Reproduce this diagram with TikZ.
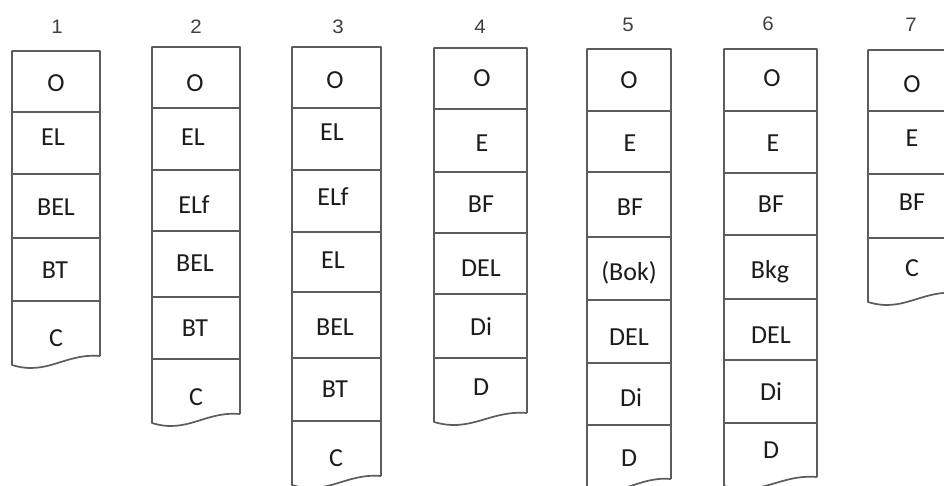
\documentclass[tikz,border=0pt]{standalone}
\usepackage{fontspec}
\usepackage{xcolor}
\usepackage{tikz}
\newfontfamily\cellfont{Carlito}
\newfontfamily\numfont[FakeStretch=1.05]{Liberation Sans}
\definecolor{framegray}{HTML}{5C5C5C}
\definecolor{textgray}{HTML}{1C1C1C}
\definecolor{numgray}{HTML}{404040}

\tikzset{
  frame/.style={draw=framegray, line width=1.7pt},
  cell/.style={inner sep=0pt, text height=16.5pt, text depth=0pt, text=textgray,
               font=\cellfont\fontsize{26}{26}\selectfont},
  colnum/.style={inner sep=0pt, text height=14pt, text depth=0pt, text=numgray,
                 font=\numfont\fontsize{19.5}{19.5}\selectfont}
}

\begin{document}
\begin{tikzpicture}[x=1pt, y=-1pt]
  \useasboundingbox (0,0) rectangle (944,486);
  \clip (0,0) rectangle (944,486);

  % column numbers
  \node[colnum] (n1) at (57,27) {1};
  \node[colnum] (n2) at (196,27) {2};
  \node[colnum] (n3) at (338,27) {3};
  \node[colnum] (n4) at (480,27) {4};
  \node[colnum] (n5) at (628,25) {5};
  \node[colnum] (n6) at (768,24) {6};
  \node[colnum] (n7) at (911,25) {7};

  % outlines: left edge, top, right edge, wavy bottom
  \foreach \xa/\xb/\yt/\yb in {12/100/51/365, 152/240/47/423, 292/381/47/485,
                               434/527/48/422, 587/671/49/488, 724/817/49/486,
                               868/956/50/302} {
    \pgfmathsetmacro{\wd}{\xb-\xa}
    \draw[frame, line join=round]
      (\xb,\yb-9) -- (\xb,\yt) -- (\xa,\yt) -- (\xa,\yb)
      .. controls (\xa+0.4*\wd,\yb+11) and (\xa+0.6*\wd,\yb-12) .. (\xb,\yb-9);
  }

  % dividers
  \foreach \y in {112,174,238,301} \draw[frame] (12,\y) -- (100,\y);
  \foreach \y in {108,170,231,297,359} \draw[frame] (152,\y) -- (240,\y);
  \foreach \y in {108,170,232,292,358,421} \draw[frame] (292,\y) -- (381,\y);
  \foreach \y in {109,172,233,294,358} \draw[frame] (434,\y) -- (527,\y);
  \foreach \y in {111,172,237,300,363,425} \draw[frame] (587,\y) -- (671,\y);
  \foreach \y in {111,173,235,299,360,423} \draw[frame] (724,\y) -- (817,\y);
  \foreach \y in {111,174,238} \draw[frame] (868,\y) -- (956,\y);

  % column 1
  \node[cell] (a1) at (56,83) {O};
  \node[cell] (a2) at (53,137) {EL};
  \node[cell] (a3) at (56,207) {BEL};
  \node[cell] (a4) at (55,270) {BT};
  \node[cell] (a5) at (56,338) {C};

  % column 2
  \node[cell] (b1) at (195,83) {O};
  \node[cell] (b2) at (193,137) {EL};
  \node[cell] (b3) at (194,205) {ELf};
  \node[cell] (b4) at (195,263) {BEL};
  \node[cell] (b5) at (195,328) {BT};
  \node[cell] (b6) at (196,397) {C};

  % column 3
  \node[cell] (c1) at (335,80) {O};
  \node[cell] (c2) at (332,132) {EL};
  \node[cell] (c3) at (333,197) {ELf};
  \node[cell] (c4) at (333,260) {EL};
  \node[cell] (c5) at (335,327) {BEL};
  \node[cell] (c6) at (335,389) {BT};
  \node[cell] (c7) at (336,458) {C};

  % column 4
  \node[cell] (d1) at (482,78) {O};
  \node[cell] (d2) at (482,143) {E};
  \node[cell] (d3) at (481,204) {BF};
  \node[cell] (d4) at (481,268) {DEL};
  \node[cell] (d5) at (481,327) {Di};
  \node[cell] (d6) at (481,387) {D};

  % column 5
  \node[cell] (e1) at (629,80) {O};
  \node[cell] (e2) at (630,143) {E};
  \node[cell] (e3) at (630,207) {BF};
  \node[cell] (e4) at (629,272) {(Bok)};
  \node[cell] (e5) at (629,337) {DEL};
  \node[cell] (e6) at (631,398) {Di};
  \node[cell] (e7) at (629,458) {D};

  % column 6
  \node[cell] (f1) at (772,78) {O};
  \node[cell] (f2) at (773,143) {E};
  \node[cell] (f3) at (771,204) {BF};
  \node[cell] (f4) at (770,270) {Bkg};
  \node[cell] (f5) at (771,335) {DEL};
  \node[cell] (f6) at (771,392) {Di};
  \node[cell] (f7) at (771,450) {D};

  % column 7
  \node[cell] (g1) at (912,84) {O};
  \node[cell] (g2) at (912,138) {E};
  \node[cell] (g3) at (912,202) {BF};
  \node[cell] (g4) at (912,268) {C};
\end{tikzpicture}
\end{document}
